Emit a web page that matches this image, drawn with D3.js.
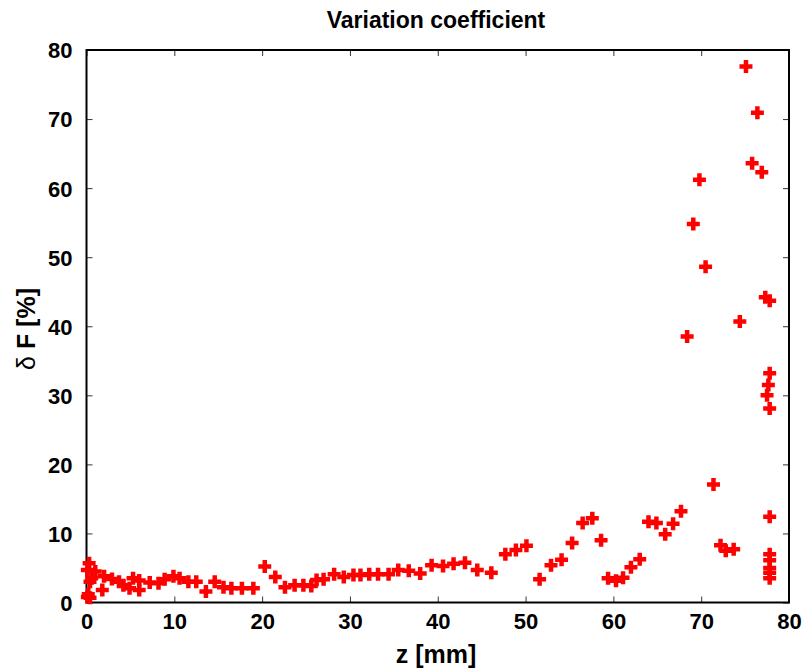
<!DOCTYPE html>
<html><head><meta charset="utf-8">
<script src="https://cdn.jsdelivr.net/npm/d3@7"></script>
<style>body{margin:0;background:#fff}svg{display:block}</style>
</head><body>
<script>
const title = "Variation coefficient";
const xLabel = "z [mm]";
const yLabelSymbol = "δ";
const yLabelRest = " F [%]";
const xTicks = [0,10,20,30,40,50,60,70,80];
const yTicks = [0,10,20,30,40,50,60,70,80];
const zValues = [0.3,0.1,1.0,0.6,0.4,0.1,0.4,0.2,1.8,2.0,2.9,3.7,4.2,4.9,5.3,6.0,6.0,7.2,8.2,8.9,9.9,10.6,11.6,12.5,13.6,14.6,15.6,16.5,17.7,19.0,20.3,21.5,22.6,23.7,24.7,25.6,26.2,27.0,28.2,29.3,30.4,31.2,32.2,33.2,34.4,35.5,36.7,38.0,39.3,40.6,41.8,43.1,44.5,46.1,47.7,48.9,50.1,51.6,52.9,54.1,55.3,56.5,57.6,58.6,59.4,60.3,61.1,62.0,63.0,64.0,64.9,65.9,66.8,67.7,68.4,69.1,69.8,70.5,71.4,72.2,72.8,73.7,74.4,75.1,75.8,76.4,76.9,77.3,77.8,77.8,77.65,77.5,77.8,77.8,77.8,77.8,77.8,77.8,77.8];
const dFValues = [5.7,4.7,4.5,3.5,3.0,0.8,0.7,1.2,1.8,3.8,3.4,3.0,2.5,2.05,3.5,3.2,1.8,2.9,2.8,3.35,3.8,3.5,3.0,3.0,1.6,3.0,2.2,2.05,2.05,2.05,5.2,3.7,2.2,2.5,2.5,2.4,3.25,3.35,4.1,3.7,4.0,4.0,4.1,4.1,4.1,4.7,4.6,4.2,5.4,5.3,5.6,5.76,4.7,4.3,7.0,7.6,8.2,3.35,5.4,6.2,8.6,11.5,12.2,9.0,3.5,3.15,3.6,5.1,6.25,11.7,11.5,9.9,11.4,13.2,38.5,54.8,61.2,48.6,17.1,8.3,7.5,7.7,40.7,77.6,63.6,70.9,62.3,44.2,43.7,33.2,31.5,30.0,28.1,12.4,7.0,6.1,5.0,4.3,3.5];

const W = 803, H = 668;
const m = {left: 86.5, right: 803-789, top: 50, bottom: 668-602.5};
const svg = d3.select("body").append("svg").attr("width", W).attr("height", H)
  .style("font-family", "'Liberation Sans', Arial, sans-serif");

const x = d3.scaleLinear().domain([0,80]).range([m.left, W - m.right]);
const y = d3.scaleLinear().domain([0,80]).range([H - m.bottom, m.top]);

const tickLen = 6;
const gx = svg.append("g").attr("transform", `translate(0,${y(0)})`)
  .call(d3.axisBottom(x).tickValues(xTicks).tickSizeInner(-tickLen).tickSizeOuter(0).tickPadding(11));
const gy = svg.append("g").attr("transform", `translate(${x(0)},0)`)
  .call(d3.axisLeft(y).tickValues(yTicks).tickSizeInner(-tickLen).tickSizeOuter(0).tickPadding(14));
const gt = svg.append("g").attr("transform", `translate(0,${y(80)})`)
  .call(d3.axisTop(x).tickValues(xTicks).tickSizeInner(-tickLen).tickSizeOuter(0).tickFormat(""));
const gr = svg.append("g").attr("transform", `translate(${x(80)},0)`)
  .call(d3.axisRight(y).tickValues(yTicks).tickSizeInner(-tickLen).tickSizeOuter(0).tickFormat(""));

[gx,gy,gt,gr].forEach(g => {
  g.select(".domain").remove();
  g.selectAll(".tick line").attr("stroke", "#333").attr("stroke-width", 1);
  g.selectAll(".tick text").attr("fill", "#000").style("font-size", "22px").style("font-weight", "bold");
});
gy.selectAll(".tick text").attr("dy", "0.36em");

svg.append("rect").attr("x", x(0)).attr("y", y(80))
  .attr("width", x(80) - x(0)).attr("height", y(0) - y(80))
  .attr("fill", "none").attr("stroke", "#000").attr("stroke-width", 2);

const data = zValues.map((z,i) => ({z, v: dFValues[i]}));
const arm = 6.5;
const pts = svg.append("g").attr("stroke", "#ff0000").attr("stroke-width", 4.5).attr("fill", "none");
pts.selectAll("path").data(data).join("path")
  .attr("d", d => {
    const cx = x(d.z), cy = y(d.v);
    return `M${cx-arm},${cy}H${cx+arm}M${cx},${cy-arm}V${cy+arm}`;
  });

svg.append("text").attr("x", 436).attr("y", 28).attr("text-anchor", "middle")
  .style("font-size", "23px").style("font-weight", "bold").text(title);
svg.append("text").attr("x", 436).attr("y", 663).attr("text-anchor", "middle")
  .style("font-size", "25px").style("font-weight", "bold").text(xLabel);
const yl = svg.append("text").attr("transform", "translate(35,329) rotate(-90)").attr("text-anchor", "middle")
  .style("font-size", "25px").style("font-weight", "bold");
yl.append("tspan").style("font-weight", "normal").text(yLabelSymbol);
yl.append("tspan").attr("xml:space", "preserve").text(yLabelRest);
</script>
</body></html>
